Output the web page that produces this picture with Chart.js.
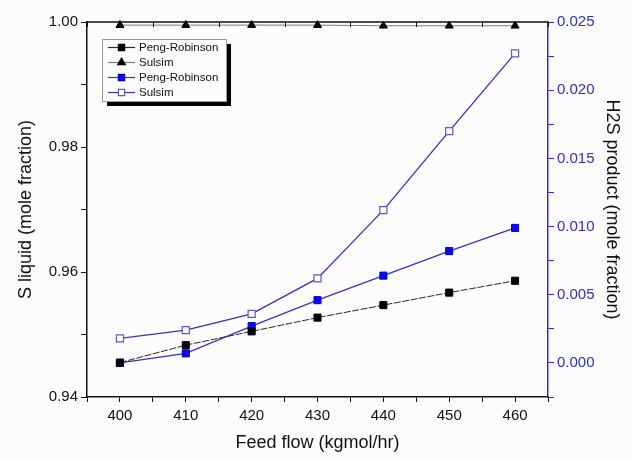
<!DOCTYPE html>
<html>
<head>
<meta charset="utf-8">
<script src="https://cdn.jsdelivr.net/npm/chart.js@4.4.1/dist/chart.umd.min.js"></script>
<style>
  html, body { margin: 0; padding: 0; background: #fcfcfc; }
  canvas { display: block; }
</style>
</head>
<body>
<canvas id="chart" width="632" height="459"></canvas>
<script>
// values
const feedFlow = [400, 410, 420, 430, 440, 450, 460];
const sLiquidPR = [0.9455, 0.9483, 0.9505, 0.9527, 0.9547, 0.9567, 0.9586];
const sLiquidSulsim = [0.9995, 0.9995, 0.9995, 0.9995, 0.9994, 0.9994, 0.9994];
const h2sPR = [0.0000, 0.0007, 0.0027, 0.0046, 0.0064, 0.0082, 0.0099];
const h2sSulsim = [0.0018, 0.0024, 0.0036, 0.0062, 0.0112, 0.0170, 0.0227];

const seriesLabels = ['Peng-Robinson', 'Sulsim', 'Peng-Robinson', 'Sulsim'];
const FONT = '"Liberation Sans", Arial, sans-serif';
const BLUE_LINE = '#3434c4';
const BLUE_AXIS = '#2a2ad2';

const toPoints = ys => feedFlow.map((x, i) => ({ x, y: ys[i] }));

// fixed plot box: left 87, right 548, top 22, bottom 397
function fixWidth(w) { return scale => { scale.width = w; }; }
function fixHeight(h) { return scale => { scale.height = h; }; }

// top frame line with inward ticks
const topFrame = {
  id: 'topFrame',
  afterDatasetsDraw(chart) {
    const { ctx, chartArea: a, scales } = chart;
    ctx.save();
    ctx.strokeStyle = '#111';
    ctx.lineWidth = 1.5;
    ctx.beginPath();
    ctx.moveTo(a.left, a.top);
    ctx.lineTo(a.right, a.top);
    ctx.stroke();
    ctx.lineWidth = 1;
    scales.x.ticks.forEach(t => {
      const px = Math.round(scales.x.getPixelForValue(t.value)) + 0.5;
      ctx.beginPath();
      ctx.moveTo(px, a.top);
      ctx.lineTo(px, a.top + 5);
      ctx.stroke();
    });
    ctx.restore();
  }
};

// legend box drawn inside the plot, with a black drop shadow
const insideLegend = {
  id: 'insideLegend',
  afterDraw(chart) {
    const { ctx } = chart;
    const x0 = 102, y0 = 39, w = 124, h = 62;
    ctx.save();
    ctx.fillStyle = '#000';
    ctx.fillRect(x0 + 5, y0 + 5, w, h);
    ctx.fillStyle = '#fcfcfc';
    ctx.fillRect(x0, y0, w, h);
    ctx.strokeStyle = '#9a9a9a';
    ctx.lineWidth = 1;
    ctx.strokeRect(x0 + 0.5, y0 + 0.5, w, h);

    chart.data.datasets.forEach((ds, i) => {
      const y = 47.5 + i * 15;
      ctx.strokeStyle = ds.borderColor;
      ctx.lineWidth = 1.2;
      ctx.beginPath();
      ctx.moveTo(108, y);
      ctx.lineTo(135, y);
      ctx.stroke();
      ctx.fillStyle = ds.pointBackgroundColor;
      ctx.strokeStyle = ds.pointBorderColor;
      Chart.helpers.drawPoint(ctx, {
        pointStyle: ds.pointStyle, radius: 4.4, rotation: 0, borderWidth: 1
      }, 121.5, y);
      ctx.fillStyle = '#111';
      ctx.font = '11.5px ' + FONT;
      ctx.textBaseline = 'middle';
      ctx.fillText(ds.label, 139, y + 0.5);
    });
    ctx.restore();
  }
};

const bgPlugin = {
  id: 'bg',
  beforeDraw(chart) {
    const { ctx, width, height } = chart;
    ctx.save();
    ctx.fillStyle = '#fcfcfc';
    ctx.fillRect(0, 0, width, height);
    ctx.restore();
  }
};

new Chart(document.getElementById('chart'), {
  type: 'line',
  data: {
    datasets: [
      {
        label: seriesLabels[0], data: toPoints(sLiquidPR), yAxisID: 'y',
        borderColor: '#2a2a2a', borderWidth: 1, borderDash: [7, 1.5],
        pointStyle: 'rect', pointRadius: 5,
        pointBackgroundColor: '#000', pointBorderColor: '#000', pointBorderWidth: 1
      },
      {
        label: seriesLabels[1], data: toPoints(sLiquidSulsim), yAxisID: 'y',
        borderColor: '#7a7a7a', borderWidth: 1,
        pointStyle: 'triangle', pointRadius: 4.6,
        pointBackgroundColor: '#000', pointBorderColor: '#000', pointBorderWidth: 1
      },
      {
        label: seriesLabels[2], data: toPoints(h2sPR), yAxisID: 'y2',
        borderColor: BLUE_LINE, borderWidth: 1.3,
        pointStyle: 'rect', pointRadius: 5,
        pointBackgroundColor: '#0a0af0', pointBorderColor: '#0000c8', pointBorderWidth: 1
      },
      {
        label: seriesLabels[3], data: toPoints(h2sSulsim), yAxisID: 'y2',
        borderColor: BLUE_LINE, borderWidth: 1.3,
        pointStyle: 'rect', pointRadius: 5,
        pointBackgroundColor: '#ffffff', pointBorderColor: '#5a5ac8', pointBorderWidth: 1.2
      }
    ]
  },
  options: {
    responsive: false,
    animation: false,
    clip: false,
    layout: { padding: { top: 22, left: 0, right: 0, bottom: 0 } },
    plugins: { legend: { display: false }, tooltip: { enabled: false } },
    elements: { line: { tension: 0 } },
    scales: {
      x: {
        type: 'linear', position: 'bottom', min: 395, max: 465,
        afterFit: fixHeight(62),
        border: { color: '#111', width: 1.5 },
        grid: { drawOnChartArea: false, tickLength: 5, color: '#111' },
        ticks: {
          stepSize: 5, color: '#111', padding: 5,
          font: { family: FONT, size: 15 },
          callback: v => (Math.round(v) % 10 === 0 ? String(Math.round(v)) : '')
        },
        title: {
          display: true, text: 'Feed flow (kgmol/hr)', color: '#111',
          font: { family: FONT, size: 18 }, padding: { top: 0, bottom: 5 }
        }
      },
      y: {
        position: 'left', min: 0.94, max: 1.0,
        afterFit: fixWidth(87),
        border: { color: '#111', width: 1.5 },
        grid: { drawOnChartArea: false, tickLength: 6, color: '#111' },
        ticks: {
          stepSize: 0.01, color: '#111', padding: 3,
          font: { family: FONT, size: 15 },
          callback: v => (Math.round(v * 100) % 2 === 0 ? v.toFixed(2) : '')
        },
        title: {
          display: true, text: 'S liquid (mole fraction)', color: '#111',
          font: { family: FONT, size: 18 }, padding: { top: 15, bottom: 0 }
        }
      },
      y2: {
        position: 'right', min: -0.0025, max: 0.025,
        afterFit: fixWidth(84),
        border: { color: BLUE_AXIS, width: 1.5 },
        grid: { drawOnChartArea: false, tickLength: 6, color: BLUE_AXIS },
        ticks: {
          stepSize: 0.0025, color: '#3030c0', padding: 3,
          font: { family: FONT, size: 15 },
          callback: v => (Math.round(v / 0.0025) % 2 === 0 ? v.toFixed(3) : '')
        },
        title: {
          display: true, text: 'H2S product (mole fraction)', color: '#111',
          font: { family: FONT, size: 18 }, padding: { top: 9, bottom: 0 }
        }
      }
    }
  },
  plugins: [bgPlugin, topFrame, insideLegend]
});
</script>
</body>
</html>
